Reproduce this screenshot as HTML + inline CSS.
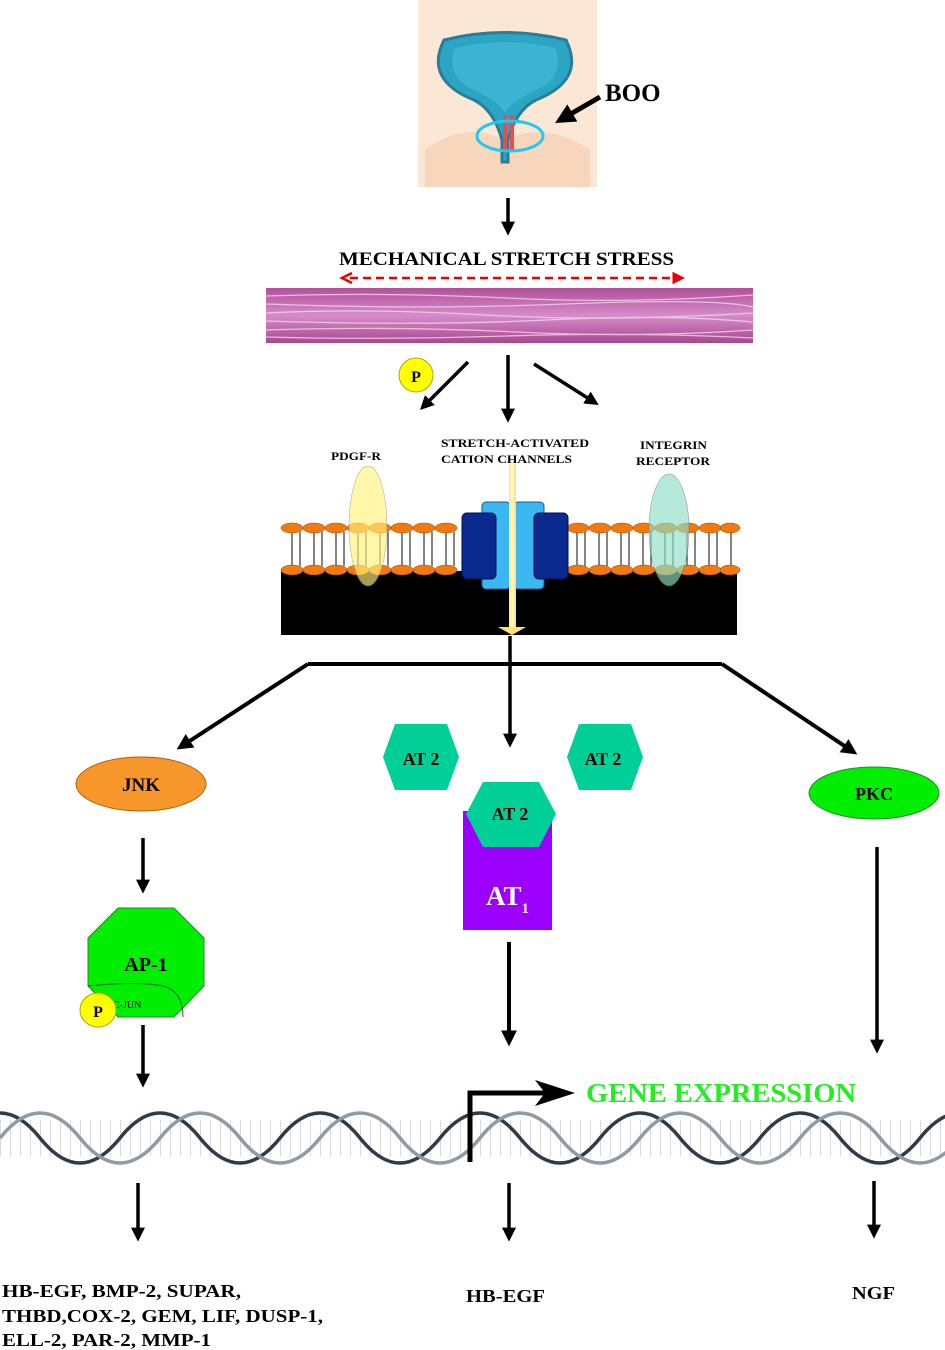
<!DOCTYPE html>
<html><head><meta charset="utf-8"><style>
html,body{margin:0;padding:0;background:#fff}
svg{display:block}
text{font-family:"Liberation Serif",serif;font-weight:bold}
</style></head><body>
<svg width="945" height="1350" viewBox="0 0 945 1350" xmlns="http://www.w3.org/2000/svg">
<defs>
<marker id="ah" viewBox="0 0 10 10" markerWidth="4" markerHeight="4" refX="6" refY="5" orient="auto" markerUnits="strokeWidth"><path d="M0,0 L10,5 L0,10 z" fill="#000"/></marker>
<marker id="rh" viewBox="0 0 10 10" markerWidth="5" markerHeight="5" refX="6" refY="5" orient="auto" markerUnits="strokeWidth"><path d="M0,0 L10,5 L0,10 z" fill="#e00"/></marker>
<linearGradient id="mg" x1="0" y1="0" x2="0" y2="1"><stop offset="0" stop-color="#b0509a"/><stop offset=".5" stop-color="#d58cc8"/><stop offset="1" stop-color="#a8488e"/></linearGradient>
<linearGradient id="yb" x1="0" y1="0" x2="1" y2="0"><stop offset="0" stop-color="#ffe890"/><stop offset=".5" stop-color="#fff8c0"/><stop offset="1" stop-color="#ffe070"/></linearGradient>
</defs>

<!-- bladder picture -->
<rect x="418" y="0" width="179" height="187" fill="#fbe7d6"/>
<path d="M425,150 q40,-30 80,-10 q40,-20 85,10 l0,37 l-165,0z" fill="#f5cfb0" opacity=".7"/>
<path d="M444,40 q60,-15 122,0 q20,40 -30,60 q-20,10 -28,40 l0,22 l-6,0 l0,-22 q-8,-30 -28,-40 q-50,-20 -30,-60z" fill="#2aa6c4" stroke="#2a7d94" stroke-width="3"/>
<path d="M455,48 q52,-12 100,0 q12,30 -25,45 q-20,10 -25,20 q-5,-10 -25,-20 q-37,-15 -25,-45z" fill="#3cb3d0"/>
<rect x="503" y="115" width="4" height="36" fill="#e05050"/><rect x="510" y="115" width="4" height="36" fill="#e05050"/>
<ellipse cx="510" cy="136" rx="33" ry="15" fill="none" stroke="#22c8ee" stroke-width="3"/>
<line x1="600" y1="97" x2="562" y2="119" stroke="#000" stroke-width="5" marker-end="url(#ah)"/>
<text x="605" y="101" font-size="25">BOO</text>

<line x1="508" y1="198" x2="508" y2="230" stroke="#000" stroke-width="3.5" marker-end="url(#ah)"/>
<text x="339" y="265" font-size="19" textLength="335" lengthAdjust="spacingAndGlyphs">MECHANICAL STRETCH STRESS</text>
<line x1="350" y1="278" x2="680" y2="278" stroke="#e00" stroke-width="2.5" stroke-dasharray="8,5" marker-end="url(#rh)"/>
<path d="M352,273 l-10,5 l10,5" fill="none" stroke="#e00" stroke-width="2.5"/>

<!-- muscle strip -->
<rect x="266" y="288" width="487" height="55" fill="url(#mg)"/>
<g stroke="#f4d4ee" stroke-width="1.3" opacity=".8" fill="none">
<path d="M266,296 q120,-4 240,2 t247,-3"/><path d="M266,304 q150,6 300,0 t187,3"/>
<path d="M266,313 q100,-5 220,2 t267,-2"/><path d="M266,321 q160,5 280,-1 t207,2"/>
<path d="M266,330 q130,-4 250,2 t237,-2"/><path d="M266,337 q110,3 240,-1 t247,2"/>
</g>

<!-- arrows -->
<circle cx="416" cy="375" r="17" fill="#ff0" stroke="#aa0"/>
<text x="416" y="382" font-size="16" text-anchor="middle">P</text>
<line x1="468" y1="362" x2="424" y2="406" stroke="#000" stroke-width="3.5" marker-end="url(#ah)"/>
<line x1="508" y1="355" x2="508" y2="417" stroke="#000" stroke-width="3.5" marker-end="url(#ah)"/>
<line x1="534" y1="364" x2="594" y2="402" stroke="#000" stroke-width="3.5" marker-end="url(#ah)"/>

<text x="331" y="460" font-size="12" textLength="50" lengthAdjust="spacingAndGlyphs">PDGF-R</text>
<text x="441" y="447" font-size="12" textLength="148" lengthAdjust="spacingAndGlyphs">STRETCH-ACTIVATED</text>
<text x="441" y="463" font-size="12" textLength="131" lengthAdjust="spacingAndGlyphs">CATION CHANNELS</text>
<text x="640" y="449" font-size="12" textLength="67" lengthAdjust="spacingAndGlyphs">INTEGRIN</text>
<text x="636" y="465" font-size="12" textLength="74" lengthAdjust="spacingAndGlyphs">RECEPTOR</text>

<!-- membrane -->
<rect x="281" y="571" width="456" height="64" fill="#000"/>
<g stroke="#333" stroke-width="1.2">
<path d="M292,532 v34 M300,532 v34 M314,532 v34 M322,532 v34 M336,532 v34 M344,532 v34 M358,532 v34 M366,532 v34 M380,532 v34 M388,532 v34 M402,532 v34 M410,532 v34 M424,532 v34 M432,532 v34 M446,532 v34 M454,532 v34"/>
<path d="M577,532 v34 M585,532 v34 M599,532 v34 M607,532 v34 M621,532 v34 M629,532 v34 M643,532 v34 M651,532 v34 M665,532 v34 M673,532 v34 M687,532 v34 M695,532 v34 M709,532 v34 M717,532 v34 M731,532 v34"/>
</g>
<g fill="#f07a10" stroke="#a04000" stroke-width=".5">
<ellipse cx="292" cy="528" rx="11" ry="5"/><ellipse cx="314" cy="528" rx="11" ry="5"/><ellipse cx="336" cy="528" rx="11" ry="5"/><ellipse cx="358" cy="528" rx="11" ry="5"/><ellipse cx="380" cy="528" rx="11" ry="5"/><ellipse cx="402" cy="528" rx="11" ry="5"/><ellipse cx="424" cy="528" rx="11" ry="5"/><ellipse cx="446" cy="528" rx="11" ry="5"/>
<ellipse cx="292" cy="570" rx="11" ry="5"/><ellipse cx="314" cy="570" rx="11" ry="5"/><ellipse cx="336" cy="570" rx="11" ry="5"/><ellipse cx="358" cy="570" rx="11" ry="5"/><ellipse cx="380" cy="570" rx="11" ry="5"/><ellipse cx="402" cy="570" rx="11" ry="5"/><ellipse cx="424" cy="570" rx="11" ry="5"/><ellipse cx="446" cy="570" rx="11" ry="5"/>
<ellipse cx="578" cy="528" rx="11" ry="5"/><ellipse cx="600" cy="528" rx="11" ry="5"/><ellipse cx="622" cy="528" rx="11" ry="5"/><ellipse cx="644" cy="528" rx="11" ry="5"/><ellipse cx="666" cy="528" rx="11" ry="5"/><ellipse cx="688" cy="528" rx="11" ry="5"/><ellipse cx="710" cy="528" rx="11" ry="5"/><ellipse cx="730" cy="528" rx="10" ry="5"/>
<ellipse cx="578" cy="570" rx="11" ry="5"/><ellipse cx="600" cy="570" rx="11" ry="5"/><ellipse cx="622" cy="570" rx="11" ry="5"/><ellipse cx="644" cy="570" rx="11" ry="5"/><ellipse cx="666" cy="570" rx="11" ry="5"/><ellipse cx="688" cy="570" rx="11" ry="5"/><ellipse cx="710" cy="570" rx="11" ry="5"/><ellipse cx="730" cy="570" rx="10" ry="5"/>
</g>
<rect x="482" y="502" width="28" height="87" rx="4" fill="#3cb8f0" stroke="#1a5a90"/>
<rect x="514" y="502" width="30" height="87" rx="4" fill="#3cb8f0" stroke="#1a5a90"/>
<rect x="462" y="513" width="34" height="66" rx="5" fill="#0a2a90" stroke="#001050"/>
<rect x="534" y="513" width="34" height="66" rx="5" fill="#0a2a90" stroke="#001050"/>
<rect x="509" y="463" width="7" height="165" fill="url(#yb)"/>
<path d="M498,627 l14,8 l14,-8z" fill="#ffe070"/>
<ellipse cx="368" cy="526" rx="19" ry="60" fill="#fff27a" opacity=".65" stroke="#999" stroke-width=".7"/>
<ellipse cx="669" cy="530" rx="20" ry="56" fill="#8ee0c8" opacity=".65" stroke="#777" stroke-width=".7"/>

<!-- branches -->
<line x1="510" y1="636" x2="510" y2="742" stroke="#000" stroke-width="3.5" marker-end="url(#ah)"/>
<path d="M308,664 L722,664" stroke="#000" stroke-width="4"/>
<line x1="308" y1="664" x2="182" y2="746" stroke="#000" stroke-width="4" marker-end="url(#ah)"/>
<line x1="722" y1="664" x2="852" y2="751" stroke="#000" stroke-width="4" marker-end="url(#ah)"/>

<!-- JNK -->
<ellipse cx="141" cy="784" rx="65" ry="27" fill="#f7962a" stroke="#b06010"/>
<text x="141" y="791" font-size="19" text-anchor="middle">JNK</text>
<line x1="143" y1="838" x2="143" y2="888" stroke="#000" stroke-width="3.5" marker-end="url(#ah)"/>
<polygon points="118,908 174,908 204,938 204,986 174,1017 118,1017 88,986 88,938" fill="#00ee00" stroke="#2a8a2a"/>
<path d="M88,986 q50,-5 75,0 q20,5 20,31" fill="none" stroke="#116611" stroke-width="1"/>
<text x="146" y="971" font-size="20" text-anchor="middle">AP-1</text>
<text x="113" y="1008" font-size="10" style="font-weight:normal">C-JUN</text>
<ellipse cx="98" cy="1010" rx="18" ry="17" fill="#ff0" stroke="#aa0"/>
<text x="98" y="1017" font-size="16" text-anchor="middle">P</text>
<line x1="143" y1="1025" x2="143" y2="1082" stroke="#000" stroke-width="3.5" marker-end="url(#ah)"/>

<!-- AT -->
<polygon points="395,724 447,724 459,757 447,790 395,790 383,757" fill="#00d098"/>
<text x="421" y="765" font-size="18" text-anchor="middle">AT 2</text>
<polygon points="579,724 631,724 643,757 631,790 579,790 567,757" fill="#00d098"/>
<text x="603" y="765" font-size="18" text-anchor="middle">AT 2</text>
<rect x="463" y="811" width="89" height="119" fill="#9b00ff"/>
<polygon points="483,782 539,782 556,814 539,847 483,847 466,814" fill="#00d098"/>
<text x="510" y="820" font-size="18" text-anchor="middle">AT 2</text>
<text x="486" y="905" font-size="27" fill="#fff">AT<tspan font-size="15" dy="8">1</tspan></text>
<line x1="509" y1="942" x2="509" y2="1040" stroke="#000" stroke-width="4" marker-end="url(#ah)"/>

<!-- PKC -->
<ellipse cx="874" cy="793" rx="65" ry="26" fill="#00ee00" stroke="#2a8a2a"/>
<text x="874" y="800" font-size="18" text-anchor="middle">PKC</text>
<line x1="877" y1="847" x2="877" y2="1048" stroke="#000" stroke-width="3.5" marker-end="url(#ah)"/>

<!-- DNA -->
<line x1="0" y1="1138" x2="945" y2="1138" stroke="#d8dadc" stroke-width="36" stroke-dasharray="1,9"/>
<path d="M-40,1138 q40,-50 80,0 t80,0 t80,0 t80,0 t80,0 t80,0 t80,0 t80,0 t80,0 t80,0 t80,0 t80,0 t80,0" fill="none" stroke="#2e3c48" stroke-width="3.5"/>
<path d="M0,1138 q40,-50 80,0 t80,0 t80,0 t80,0 t80,0 t80,0 t80,0 t80,0 t80,0 t80,0 t80,0 t80,0 t80,0" fill="none" stroke="#8e9aa4" stroke-width="3.5"/>
<path d="M470,1162 L470,1093 L545,1093" fill="none" stroke="#000" stroke-width="5"/>
<path d="M535,1080 L575,1093 L535,1106 L545,1093z" fill="#000"/>
<text x="586" y="1102" font-size="27" fill="#22ee22" textLength="270" lengthAdjust="spacingAndGlyphs">GENE EXPRESSION</text>

<line x1="138" y1="1183" x2="138" y2="1236" stroke="#000" stroke-width="3.5" marker-end="url(#ah)"/>
<line x1="509" y1="1183" x2="509" y2="1236" stroke="#000" stroke-width="3.5" marker-end="url(#ah)"/>
<line x1="874" y1="1181" x2="874" y2="1233" stroke="#000" stroke-width="3.5" marker-end="url(#ah)"/>

<text x="2" y="1297" font-size="18" textLength="239" lengthAdjust="spacingAndGlyphs">HB-EGF, BMP-2, SUPAR,</text>
<text x="2" y="1322" font-size="18" textLength="321" lengthAdjust="spacingAndGlyphs">THBD,COX-2, GEM, LIF, DUSP-1,</text>
<text x="2" y="1346" font-size="18" textLength="209" lengthAdjust="spacingAndGlyphs">ELL-2, PAR-2, MMP-1</text>
<text x="466" y="1302" font-size="18" textLength="79" lengthAdjust="spacingAndGlyphs">HB-EGF</text>
<text x="852" y="1299" font-size="18" textLength="43" lengthAdjust="spacingAndGlyphs">NGF</text>
</svg>
</body></html>
